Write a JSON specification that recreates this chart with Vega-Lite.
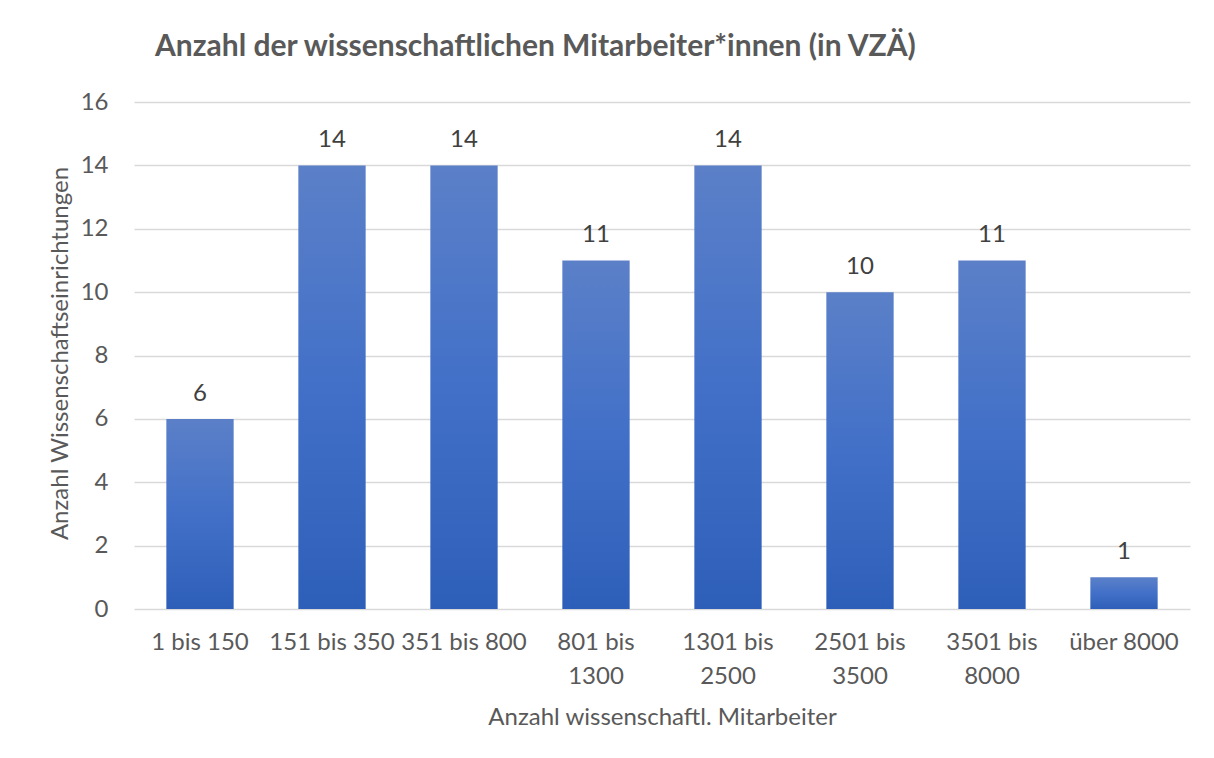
{
  "$schema": "https://vega.github.io/schema/vega-lite/v6.json",
  "width": 1056,
  "height": 507,
  "autosize": {"type": "none"},
  "padding": {"left": 134, "top": 102, "right": 24, "bottom": 149},
  "background": "white",
  "config": {
    "font": "Lato",
    "view": {"stroke": null}
  },
  "title": {
    "text": "Anzahl der wissenschaftlichen Mitarbeiter*innen (in VZÄ)",
    "anchor": "start",
    "frame": "group",
    "dx": 21,
    "offset": 4,
    "baseline": "alphabetic",
    "fontSize": 30,
    "fontWeight": "bold",
    "color": "#595959",
    "font": "Lato"
  },
  "data": {
    "values": [
      {"kategorie": "1 bis 150", "anzahl": 6},
      {"kategorie": "151 bis 350", "anzahl": 14},
      {"kategorie": "351 bis 800", "anzahl": 14},
      {"kategorie": "801 bis 1300", "anzahl": 11},
      {"kategorie": "1301 bis 2500", "anzahl": 14},
      {"kategorie": "2501 bis 3500", "anzahl": 10},
      {"kategorie": "3501 bis 8000", "anzahl": 11},
      {"kategorie": "über 8000", "anzahl": 1}
    ]
  },
  "encoding": {
    "x": {
      "field": "kategorie",
      "type": "nominal",
      "sort": null,
      "scale": {"paddingInner": 0.49, "paddingOuter": 0.245},
      "axis": {
        "title": "Anzahl wissenschaftl. Mitarbeiter",
        "titleFontSize": 24,
        "titleFontWeight": "normal",
        "titleColor": "#595959",
        "titleY": 108,
        "titleBaseline": "middle",
        "labelAngle": 0,
        "labelFontSize": 24,
        "labelColor": "#595959",
        "labelPadding": 21,
        "labelLineHeight": 34,
        "labelExpr": "length(datum.label) > 11 ? [substring(datum.label, 0, indexof(datum.label, ' bis ') + 4), substring(datum.label, indexof(datum.label, ' bis ') + 5)] : datum.label",
        "ticks": false,
        "domain": false,
        "grid": false
      }
    },
    "y": {
      "field": "anzahl",
      "type": "quantitative",
      "scale": {"domain": [0, 16]},
      "axis": {
        "title": "Anzahl Wissenschaftseinrichtungen",
        "titleFontSize": 24,
        "titleFontWeight": "normal",
        "titleColor": "#595959",
        "titleX": -74,
        "titleY": 251,
        "titleAngle": -90,
        "titleAlign": "center",
        "titleBaseline": "middle",
        "values": [0, 2, 4, 6, 8, 10, 12, 14, 16],
        "labelFontSize": 24,
        "labelColor": "#595959",
        "labelPadding": 26,
        "ticks": false,
        "domain": false,
        "grid": true,
        "gridColor": "#d9d9d9",
        "gridWidth": 1.5
      }
    }
  },
  "layer": [
    {
      "mark": {
        "type": "bar",
        "fill": {
          "gradient": "linear",
          "x1": 0, "y1": 0, "x2": 0, "y2": 1,
          "stops": [
            {"offset": 0, "color": "#5b80c8"},
            {"offset": 0.5, "color": "#4270c8"},
            {"offset": 1, "color": "#2e5fb8"}
          ]
        }
      }
    },
    {
      "mark": {
        "type": "text",
        "dy": -25,
        "baseline": "middle",
        "fontSize": 24,
        "color": "#404040"
      },
      "encoding": {"text": {"field": "anzahl", "type": "quantitative"}}
    }
  ]
}
